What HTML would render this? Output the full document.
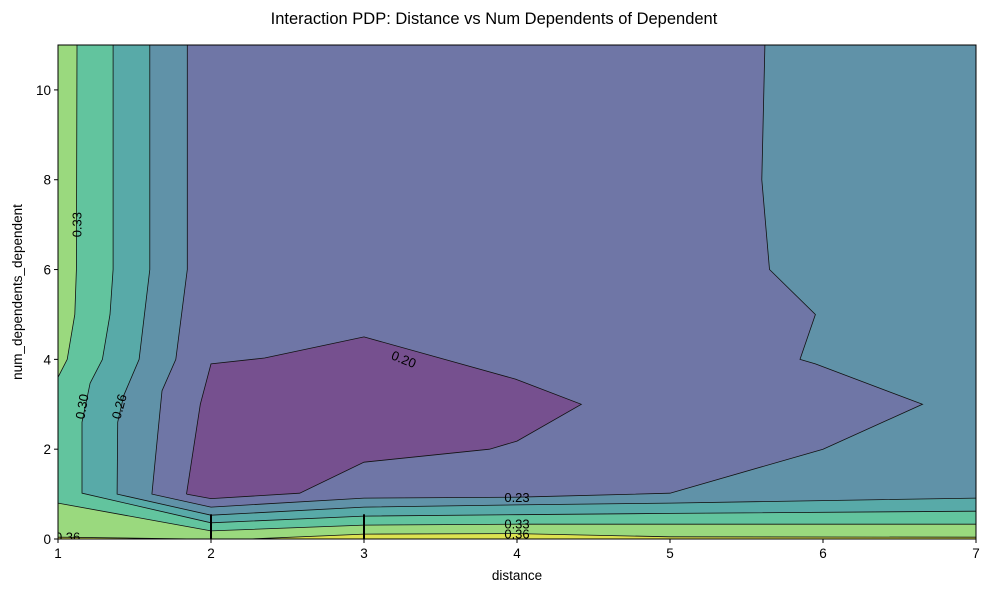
<!DOCTYPE html>
<html><head><meta charset="utf-8">
<style>
body{margin:0;background:#fff;}
svg{display:block;font-family:"Liberation Sans","DejaVu Sans",sans-serif;}
</style></head>
<body>
<svg id="chart" width="989" height="592" viewBox="0 0 989 592" xmlns="http://www.w3.org/2000/svg">
<text x="494" y="24" text-anchor="middle" font-size="16.5">Interaction PDP: Distance vs Num Dependents of Dependent</text>
<g id="plot"></g>
<g id="axes"></g>
</svg>
<script>
// ---- data (distance, num_dependents) ----
const xTicks = [1,2,3,4,5,6,7];
const yTicks = [0,2,4,6,8,10];
const levels = [0.23, 0.26, 0.30, 0.33, 0.36];
const bandColors = ["#6f76a6","#6092a8","#58aaa8","#62c49e","#9ad97e","#dde350"];
const lowColor = "#76508f";
// contour lines (open polylines) for region value >= level
const line023 = [[1.845,11],[1.845,6],[1.77,4],[1.68,3.3],[1.614,1.0],[2,0.71],[3,0.91],[4,0.93],[5,1.02],[6,2],[6.65,3],[5.95,3.9],[5.85,4],[5.95,5],[5.65,6],[5.6,8],[5.62,11]];
const line026 = [[1.6,11],[1.6,6],[1.53,4],[1.43,3.2],[1.39,2.6],[1.386,1.0],[2,0.53],[3,0.71],[4,0.76],[5,0.8],[7,0.91]];
const line030 = [[1.36,11],[1.36,6],[1.34,5],[1.29,4],[1.21,3.47],[1.157,2.6],[1.157,1.02],[2,0.36],[3,0.51],[4,0.54],[5,0.57],[7,0.62]];
const line033a = [[1.124,11],[1.12,6],[1.11,5],[1.06,4],[1,3.6]];
const line033b = [[1,0.8],[2,0.18],[3,0.31],[4,0.33],[5,0.33],[7,0.33]];
const line036a = [[2.25,0],[3,0.11],[4,0.12],[5,0.05],[7,0.04]];
const line036b = [[1,0.04],[1.5,0.02],[1.9,0]];
const line020 = [[1.84,1.0],[2,0.9],[2.58,1.02],[3,1.71],[3.82,2.0],[4,2.18],[4.42,3.0],[3.99,3.56],[3,4.5],[2.35,4.03],[2,3.9],[1.93,3.0],[1.84,1.0]];
// closures along plot edges (region = line + closure)
const regions = [
  {band:1, line:line023, close:[[7,11],[7,0],[1,0],[1,11]]},
  {band:2, line:line026, close:[[7,0],[1,0],[1,11]]},
  {band:3, line:line030, close:[[7,0],[1,0],[1,11]]},
  {band:4, line:line033a, close:[[1,11]]},
  {band:4, line:line033b, close:[[7,0],[1,0]]},
  {band:5, line:line036a, close:[[7,0]]},
  {band:5, line:line036b, close:[[1,0]]}
];
const labels = [
  {t:"0.33", x:1.124, y:7.0, r:-90},
  {t:"0.30", x:1.157, y:2.95, r:-80},
  {t:"0.26", x:1.40, y:2.95, r:-75},
  {t:"0.20", x:3.26, y:4.0, r:22},
  {t:"0.23", x:4.0, y:0.92, r:0},
  {t:"0.33", x:4.0, y:0.33, r:0},
  {t:"0.36", x:4.0, y:0.11, r:0},
  {t:"0.36", x:0.98, y:0.04, r:0}
];
// ---- axis functions ----
const X0=58, X1=976, Y0=539, Y1=45, XMIN=1, XMAX=7, YMIN=0, YMAX=11;
const sx = v => X0 + (v-XMIN)/(XMAX-XMIN)*(X1-X0);
const sy = v => Y0 - (v-YMIN)/(YMAX-YMIN)*(Y0-Y1);
const NS="http://www.w3.org/2000/svg";
const plot=document.getElementById('plot'), axes=document.getElementById('axes');
function mk(tag,attrs,parent){const e=document.createElementNS(NS,tag);for(const k in attrs)e.setAttribute(k,attrs[k]);parent.appendChild(e);return e;}
const pts = arr => arr.map(p=>sx(p[0]).toFixed(1)+","+sy(p[1]).toFixed(1)).join(" ");

const clip=mk('clipPath',{id:'clip'},plot);
mk('rect',{x:X0,y:Y1,width:X1-X0,height:Y0-Y1},clip);
const g=mk('g',{'clip-path':'url(#clip)'},plot);

const bg=mk('rect',{x:X0,y:Y1,width:X1-X0,height:Y0-Y1,fill:bandColors[0]},g);


regions.forEach((r,i)=>{
  const p=mk('polygon',{points:pts(r.line.concat(r.close)),fill:bandColors[r.band]},g);
  
  
});
const pur=mk('polygon',{points:pts(line020),fill:lowColor},g);


[line023,line026,line030,line033a,line033b,line036a,line036b,line020].forEach((l,i)=>{
  const pl=mk('polyline',{points:pts(l),fill:'none',stroke:'#111','stroke-width':0.8},g);
  
  
});
labels.forEach(l=>{
  const t=mk('text',{x:sx(l.x),y:sy(l.y),'font-size':13,'text-anchor':l.x<1?'start':'middle','dominant-baseline':'central',transform:`rotate(${l.r} ${sx(l.x)} ${sy(l.y)})`},g);
  t.textContent=l.t;
  
  
});
// artifact ticks at x=2,3
[[2,0.55],[3,0.55]].forEach(p=>{
  const l=mk('line',{x1:sx(p[0]),x2:sx(p[0]),y1:sy(0),y2:sy(p[1]),stroke:'#000','stroke-width':2},g);
  
  
});
const frame=mk('rect',{x:X0,y:Y1,width:X1-X0,height:Y0-Y1,fill:'none',stroke:'#000','stroke-width':1},axes);


xTicks.forEach(v=>{
  mk('line',{x1:sx(v),x2:sx(v),y1:Y0,y2:Y0+4,stroke:'#000'},axes);
  const t=mk('text',{x:sx(v),y:Y0+19,'font-size':13.5,'text-anchor':'middle'},axes);
  t.textContent=v;
  
  
});
yTicks.forEach(v=>{
  mk('line',{x1:X0-4,x2:X0,y1:sy(v),y2:sy(v),stroke:'#000'},axes);
  const t=mk('text',{x:X0-7,y:sy(v)+5,'font-size':13.5,'text-anchor':'end'},axes);
  t.textContent=v;
  
  
});
const xt=mk('text',{x:(X0+X1)/2,y:580,'font-size':13.5,'text-anchor':'middle'},axes);
xt.textContent='distance';


const yt=mk('text',{x:22,y:292,'font-size':13.5,'text-anchor':'middle',transform:'rotate(-90 22 292)'},axes);
yt.textContent='num_dependents_dependent';


</script>
</body></html>
